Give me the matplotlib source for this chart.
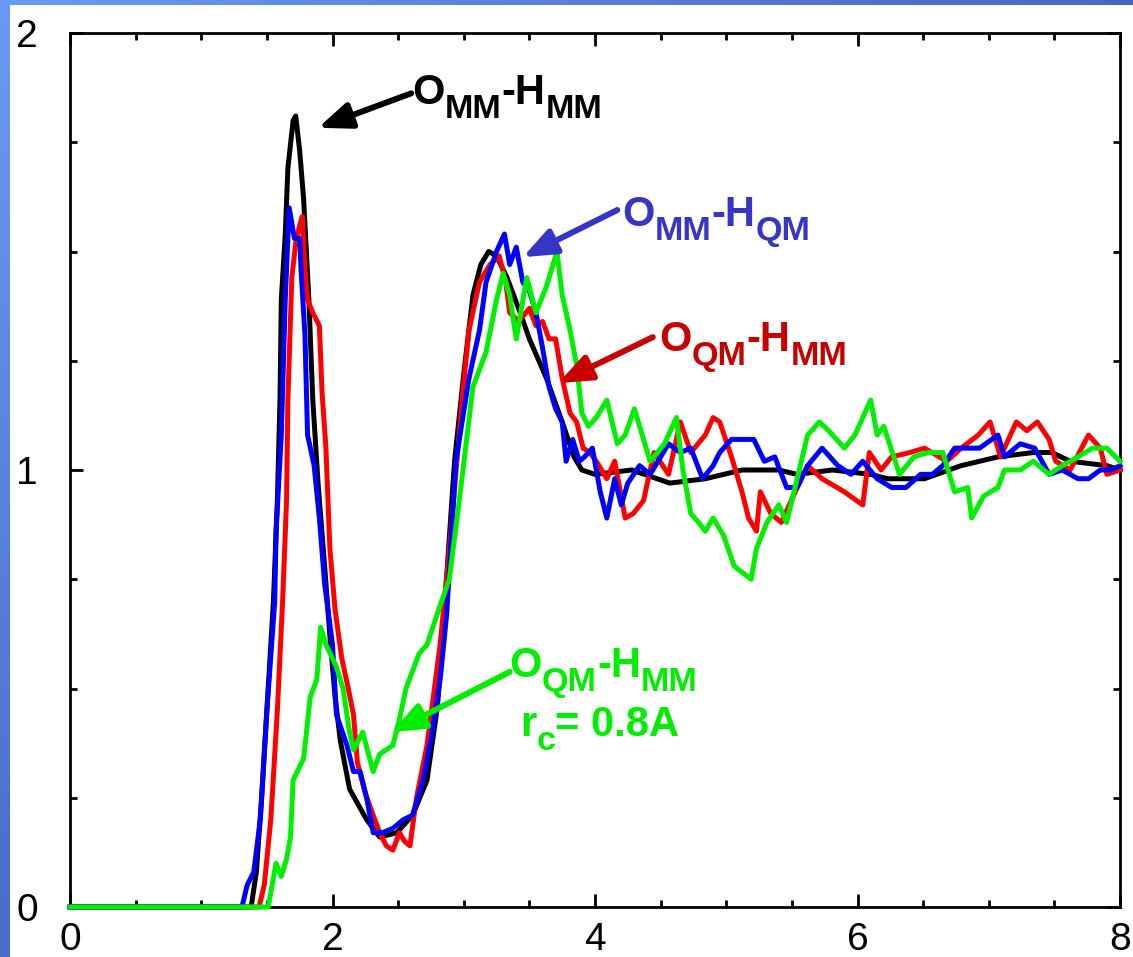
import numpy as np
import matplotlib
matplotlib.use("Agg")
import matplotlib.pyplot as plt
from matplotlib.colors import LinearSegmentedColormap

plt.rcParams['font.family'] = ['Liberation Sans', 'DejaVu Sans']

# ---------------- data (r in Angstrom, g(r)) ----------------
black_r = [0, 1.38, 1.42, 1.46, 1.50, 1.55, 1.58, 1.60, 1.61, 1.64, 1.66, 1.70, 1.72, 1.75, 1.78,
           1.82, 1.85, 1.89, 1.94, 1.98, 2.02, 2.06, 2.13, 2.26, 2.36, 2.49, 2.61, 2.72, 2.80, 2.84,
           2.88, 2.93, 3.00, 3.07, 3.13, 3.19, 3.25, 3.33, 3.43, 3.50, 3.63, 3.75, 3.84, 3.90, 4.00,
           4.28, 4.57, 4.84, 5.12, 5.40, 5.54, 5.81, 6.10, 6.23, 6.51, 6.79, 7.07, 7.34, 7.48, 7.62,
           7.90, 8.0]
black_g = [0, 0, 0.08, 0.25, 0.45, 0.70, 0.93, 1.16, 1.39, 1.54, 1.69, 1.80, 1.81, 1.73, 1.62,
           1.39, 1.16, 0.97, 0.78, 0.62, 0.48, 0.38, 0.27, 0.20, 0.16, 0.17, 0.21, 0.29, 0.46, 0.62,
           0.80, 1.02, 1.22, 1.40, 1.47, 1.50, 1.49, 1.44, 1.36, 1.30, 1.21, 1.11, 1.03, 1.00, 0.99,
           1.00, 0.97, 0.98, 1.00, 1.00, 0.99, 1.00, 0.99, 0.98, 0.98, 1.01, 1.03, 1.04, 1.04, 1.02,
           1.01, 1.00]

red_r = [0, 1.44, 1.48, 1.53, 1.58, 1.62, 1.65, 1.66, 1.69, 1.72, 1.75, 1.77, 1.79, 1.81, 1.85,
         1.90, 1.92, 1.95, 1.98, 2.02, 2.07, 2.12, 2.16, 2.19, 2.25, 2.31, 2.36, 2.41, 2.46, 2.51,
         2.55, 2.59, 2.64, 2.72, 2.82, 2.90, 2.99, 3.04, 3.12, 3.20, 3.27, 3.32, 3.35, 3.42, 3.50,
         3.55, 3.60, 3.65, 3.70, 3.75, 3.81, 3.86, 3.91, 3.96, 4.01, 4.09, 4.15, 4.23, 4.29, 4.37,
         4.45, 4.56, 4.65, 4.73, 4.84, 4.90, 4.95, 5.04, 5.12, 5.17, 5.23, 5.26, 5.34, 5.42, 5.51,
         5.62, 5.73, 5.90, 6.04, 6.09, 6.18, 6.26, 6.40, 6.51, 6.68, 6.79, 6.92, 7.01, 7.09, 7.21,
         7.29, 7.37, 7.46, 7.51, 7.62, 7.76, 7.85, 7.90, 8.0]
red_g = [0, 0, 0.05, 0.20, 0.45, 0.70, 0.93, 1.16, 1.44, 1.52, 1.56, 1.58, 1.46, 1.39, 1.36,
         1.33, 1.18, 1.05, 0.82, 0.68, 0.57, 0.50, 0.44, 0.33, 0.26, 0.21, 0.17, 0.14, 0.13, 0.17,
         0.15, 0.14, 0.25, 0.37, 0.60, 0.85, 1.17, 1.32, 1.43, 1.47, 1.49, 1.43, 1.36, 1.34, 1.37,
         1.33, 1.34, 1.30, 1.30, 1.21, 1.13, 1.11, 1.05, 1.04, 1.02, 0.98, 1.02, 0.89, 0.90, 0.93,
         1.04, 0.99, 1.11, 1.04, 1.08, 1.12, 1.11, 1.03, 0.95, 0.89, 0.86, 0.95, 0.90, 0.88, 0.94,
         1.01, 0.98, 0.95, 0.92, 1.04, 1.00, 1.03, 1.04, 1.05, 1.02, 1.05, 1.08, 1.11, 1.03, 1.11,
         1.09, 1.11, 1.07, 1.02, 1.00, 1.08, 1.05, 0.99, 1.00]

blue_r = [0, 1.31, 1.35, 1.40, 1.45, 1.50, 1.56, 1.57, 1.61, 1.64, 1.67, 1.71, 1.75, 1.76, 1.79,
          1.81, 1.86, 1.90, 1.94, 2.00, 2.03, 2.11, 2.16, 2.21, 2.26, 2.31, 2.38, 2.46, 2.54, 2.61,
          2.69, 2.76, 2.82, 2.87, 2.90, 2.94, 3.04, 3.12, 3.17, 3.25, 3.31, 3.35, 3.40, 3.45, 3.50,
          3.55, 3.60, 3.65, 3.70, 3.75, 3.78, 3.83, 3.88, 3.92, 3.98, 4.04, 4.09, 4.15, 4.20, 4.25,
          4.34, 4.42, 4.50, 4.56, 4.65, 4.73, 4.82, 4.90, 4.95, 5.04, 5.12, 5.21, 5.29, 5.37, 5.46,
          5.54, 5.62, 5.73, 5.85, 5.95, 6.04, 6.15, 6.26, 6.37, 6.48, 6.57, 6.65, 6.74, 6.82, 6.93,
          7.07, 7.12, 7.24, 7.35, 7.46, 7.56, 7.68, 7.76, 7.85, 7.93, 8.0]
blue_g = [0, 0, 0.05, 0.08, 0.20, 0.45, 0.70, 0.86, 1.08, 1.39, 1.60, 1.53, 1.53, 1.46, 1.31,
          1.08, 1.01, 0.89, 0.74, 0.60, 0.44, 0.37, 0.31, 0.31, 0.25, 0.17, 0.17, 0.18, 0.20, 0.21,
          0.29, 0.40, 0.52, 0.67, 0.82, 1.02, 1.21, 1.32, 1.43, 1.50, 1.54, 1.47, 1.51, 1.43, 1.41,
          1.36, 1.28, 1.19, 1.14, 1.11, 1.02, 1.07, 1.02, 1.03, 1.05, 0.95, 0.89, 0.98, 0.92, 0.97,
          1.01, 0.99, 1.03, 1.06, 1.04, 1.05, 0.98, 1.01, 1.04, 1.07, 1.07, 1.07, 1.02, 1.03, 0.96,
          0.96, 1.01, 1.05, 1.01, 0.99, 1.02, 0.98, 0.96, 0.96, 0.99, 0.99, 1.01, 1.05, 1.05, 1.05,
          1.08, 1.03, 1.06, 1.05, 0.99, 1.00, 0.98, 0.98, 1.00, 1.00, 1.01]

green_r = [0, 1.51, 1.54, 1.57, 1.61, 1.65, 1.68, 1.70, 1.78, 1.83, 1.88, 1.91, 1.95, 2.03, 2.08,
           2.13, 2.16, 2.23, 2.31, 2.36, 2.46, 2.51, 2.56, 2.66, 2.72, 2.82, 2.89, 2.97, 3.07, 3.17,
           3.25, 3.30, 3.35, 3.40, 3.48, 3.55, 3.63, 3.71, 3.75, 3.81, 3.86, 3.90, 3.95, 4.01, 4.09,
           4.17, 4.23, 4.30, 4.37, 4.42, 4.53, 4.62, 4.67, 4.73, 4.79, 4.84, 4.90, 4.98, 5.06, 5.19,
           5.23, 5.31, 5.40, 5.46, 5.54, 5.62, 5.71, 5.78, 5.90, 5.98, 6.10, 6.15, 6.20, 6.32, 6.43,
           6.54, 6.65, 6.74, 6.84, 6.87, 6.96, 7.07, 7.12, 7.24, 7.34, 7.46, 7.56, 7.68, 7.79, 7.90,
           8.0]
green_g = [0, 0, 0.05, 0.10, 0.07, 0.11, 0.16, 0.29, 0.34, 0.48, 0.52, 0.64, 0.60, 0.55, 0.50,
           0.40, 0.36, 0.40, 0.31, 0.35, 0.37, 0.43, 0.50, 0.58, 0.60, 0.69, 0.75, 0.94, 1.19, 1.27,
           1.39, 1.45, 1.40, 1.30, 1.44, 1.36, 1.42, 1.50, 1.40, 1.32, 1.24, 1.13, 1.10, 1.12, 1.16,
           1.06, 1.08, 1.14, 1.07, 1.02, 1.06, 1.12, 1.00, 0.90, 0.88, 0.86, 0.89, 0.85, 0.78, 0.75,
           0.82, 0.88, 0.92, 0.88, 0.98, 1.08, 1.11, 1.09, 1.05, 1.08, 1.16, 1.08, 1.10, 0.99, 1.03,
           1.04, 1.04, 0.95, 0.96, 0.89, 0.94, 0.96, 1.00, 1.00, 1.02, 0.99, 1.01, 1.03, 1.05, 1.05,
           1.02]

x_major = [0, 2, 4, 6, 8]
x_labels = ['0', '2', '4', '6', '8']
y_major = [0, 1, 2]
y_labels = ['0', '1', '2']

# ---------------- figure ----------------
W, H, DPI = 1133, 957, 100
fig = plt.figure(figsize=(W / DPI, H / DPI), dpi=DPI, facecolor='white')

# slide background strips (blue gradient)
left_cmap = LinearSegmentedColormap.from_list('l', ['#6a9af6', '#5a84dc', '#4a6cc4'])
top_cmap = LinearSegmentedColormap.from_list('t', ['#6a9af6', '#5a80d8', '#4866c0'])
axl = fig.add_axes([0, 0, 10 / W, 1])
axl.imshow(np.linspace(0, 1, 256).reshape(-1, 1), cmap=left_cmap, aspect='auto')
axl.set_axis_off()
axt = fig.add_axes([0, 1 - 5 / H, 1, 5 / H])
axt.imshow(np.linspace(0, 1, 256).reshape(1, -1), cmap=top_cmap, aspect='auto')
axt.set_axis_off()

ax = fig.add_axes([70 / W, 50 / H, 1050 / W, 874 / H])
ax.set_xlim(0, 8)
ax.set_ylim(0, 2)

lw = 3.6
ax.plot(black_r, black_g, color='black', lw=lw, zorder=3, clip_on=False)
ax.plot(red_r, red_g, color='#ff0000', lw=lw, zorder=3, clip_on=False)
ax.plot(blue_r, blue_g, color='#0000ff', lw=lw, zorder=3, clip_on=False)
ax.plot(green_r, green_g, color='#00f000', lw=lw, zorder=3, clip_on=False)

for s in ax.spines.values():
    s.set_linewidth(2.0)
ax.set_xticks(x_major)
ax.set_xticklabels(x_labels)
ax.set_xticks(np.arange(0, 8.01, 0.5), minor=True)
ax.set_yticks(y_major)
ax.set_yticklabels(y_labels)
ax.set_yticks(np.arange(0, 2.01, 0.25), minor=True)
ax.tick_params(which='both', direction='in', top=True, right=True, width=2, colors='black')
ax.tick_params(which='major', length=9.5)
ax.tick_params(which='minor', length=5)
ax.tick_params(axis='x', which='major', labelsize=28, pad=11)
ax.tick_params(axis='y', which='major', labelsize=28, pad=23)


# ---------------- annotations ----------------
FS = 30
SUB = 0.82
DROP = 0.33  # subscript baseline drop in em


def rich_text(x, y, pieces, color):
    """Place text with subscripts; (x, y) in data coords = left / baseline."""
    renderer = fig.canvas.get_renderer()
    px, py = ax.transData.transform((x, y))
    em = FS * DPI / 72.0
    for txt, sub in pieces:
        size = FS * SUB if sub else FS
        yy = py - DROP * em if sub else py
        t = fig.text(px / W, yy / H, txt, fontsize=size, fontweight='bold', color=color,
                     ha='left', va='baseline', zorder=5)
        px += t.get_window_extent(renderer).width


def arrow(tail, tip, color):
    ax.annotate('', xy=tip, xytext=tail, xycoords='data', textcoords='data',
                arrowprops=dict(arrowstyle='-|>,head_length=0.9,head_width=0.36',
                                mutation_scale=22, lw=4.3, color=color,
                                shrinkA=0, shrinkB=0),
                zorder=5, annotation_clip=False)


c_black, c_blue, c_red, c_green = 'black', '#3535c8', '#c80000', '#00ee00'

rich_text(2.61, 1.838, [('O', False), ('MM', True), ('-H', False), ('MM', True)], c_black)
arrow((2.60, 1.862), (1.89, 1.783), c_black)

rich_text(4.21, 1.558, [('O', False), ('MM', True), ('-H', False), ('QM', True)], c_blue)
arrow((4.17, 1.595), (3.45, 1.487), c_blue)

rich_text(4.49, 1.272, [('O', False), ('QM', True), ('-H', False), ('MM', True)], c_red)
arrow((4.44, 1.304), (3.72, 1.199), c_red)

rich_text(3.35, 0.526, [('O', False), ('QM', True), ('-H', False), ('MM', True)], c_green)
rich_text(3.43, 0.391, [('r', False), ('c', True), ('= 0.8A', False)], c_green)
arrow((3.35, 0.538), (2.45, 0.400), c_green)

fig.savefig('out.png', dpi=DPI, facecolor='white')
